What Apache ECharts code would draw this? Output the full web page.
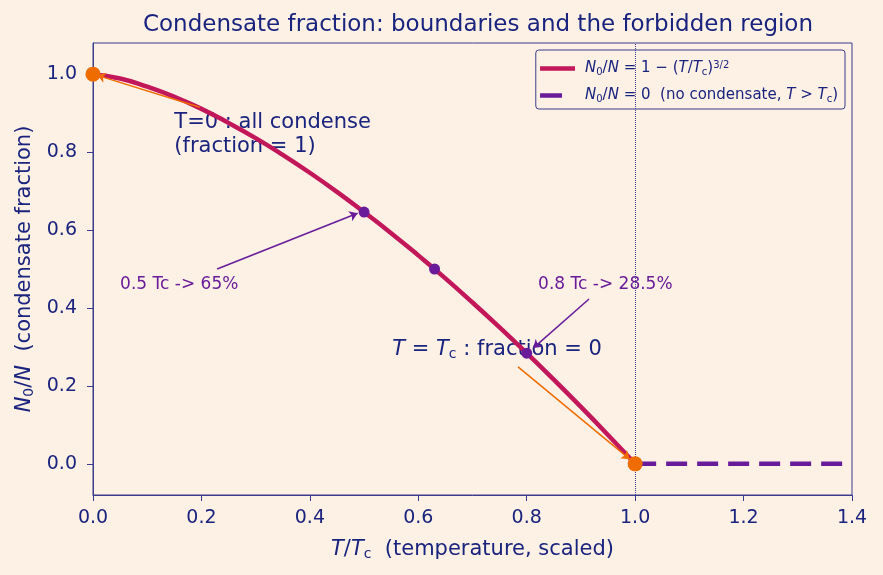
<!DOCTYPE html>
<html>
<head>
<meta charset="utf-8">
<script src="https://cdn.jsdelivr.net/npm/echarts@6/dist/echarts.min.js"></script>
<style>
  html, body { margin: 0; padding: 0; background: #fdf1e6; }
  #chart { width: 883px; height: 575px; }
</style>
</head>
<body>
<div id="chart"></div>
<script>
// T/Tc samples and condensate fraction
var tRatio = [0, 0.05, 0.1, 0.15, 0.2, 0.25, 0.3, 0.35, 0.4, 0.45, 0.5, 0.55, 0.6, 0.65, 0.7, 0.75, 0.8, 0.85, 0.9, 0.95, 1.0];
var fraction = [1.000, 0.989, 0.968, 0.942, 0.911, 0.875, 0.836, 0.793, 0.747, 0.698, 0.646, 0.592, 0.535, 0.476, 0.414, 0.350, 0.284, 0.216, 0.146, 0.074, 0.000];
// above Tc: no condensate
var aboveT = [1.0, 1.4];
var aboveF = [0, 0];
// highlighted points
var midPoints = [[0.5, 0.646], [0.63, 0.5], [0.8, 0.284]];
var endPoints = [[0, 1], [1, 0]];
var xTicks = [0, 0.2, 0.4, 0.6, 0.8, 1.0, 1.2, 1.4];
var yTicks = [0, 0.2, 0.4, 0.6, 0.8, 1.0];

// annotation texts [x, y, label]
var bigNotes = [[0.15, 0.845, 'T=0 : all condense\n(fraction = 1)'], [0.552, 0.293, '{i|T} = {i|T}{sub|c} : fraction = 0']];
var smallNotes = [[0.05, 0.46, '0.5 Tc -> 65%'], [0.821, 0.46, '0.8 Tc -> 28.5%']];
// arrows [from, to]
var orangeArrows = [[[0.197, 0.915], [0.008, 0.997]], [[0.784, 0.249], [0.99, 0.012]]];
var purpleArrows = [[[0.229, 0.5], [0.488, 0.643]], [[0.915, 0.423], [0.812, 0.297]]];

var navy = '#1a237e';
var frame = '#3b3d8c';
var crimson = '#c2185b';
var purple = '#6a1b9a';
var orange = '#ef6c00';
var font = 'DejaVu Sans';

function richSet(size, subSize, shift) {
  return {
    i: { fontStyle: 'italic', fontSize: size, fontFamily: font, color: navy },
    sub: { fontSize: subSize, padding: [shift, 0, 0, 0], fontFamily: font, color: navy },
    sup: { fontSize: subSize, padding: [0, 0, shift, 0], fontFamily: font, color: navy }
  };
}

function arrowData(list) {
  return list.map(function (a) {
    return [{ coord: a[0] }, { coord: a[1] }];
  });
}

var chart = echarts.init(document.getElementById('chart'));
chart.setOption({
  backgroundColor: '#fdf1e6',
  animation: false,
  title: {
    text: 'Condensate fraction: boundaries and the forbidden region',
    left: 473,
    top: 9,
    textAlign: 'center',
    textStyle: { color: navy, fontSize: 23, fontWeight: 'normal', fontFamily: font }
  },
  grid: {
    left: 93, right: 31, top: 43, bottom: 80,
    show: true, borderColor: frame, borderWidth: 1, backgroundColor: 'transparent'
  },
  legend: {
    orient: 'vertical',
    right: 38, top: 50,
    backgroundColor: '#fdf1e6',
    borderColor: frame, borderWidth: 1, borderRadius: 3,
    padding: [10, 7, 5, 2],
    itemWidth: 35, itemHeight: 14, itemGap: 11,
    itemStyle: { opacity: 0 },
    lineStyle: { width: 4.5 },
    data: [
      { name: 'curve' },
      { name: 'zero', lineStyle: { type: [22, 20], width: 4.5 } }
    ],
    formatter: function (name) {
      if (name === 'curve') return '{i|N}{sub|0}/{i|N} = 1 − ({i|T}/{i|T}{sub|c}){sup|3/2}';
      return '{i|N}{sub|0}/{i|N} = 0  (no condensate, {i|T} > {i|T}{sub|c})';
    },
    textStyle: { color: navy, fontSize: 15, fontFamily: font, padding: [0, 0, 0, 5], rich: richSet(15, 10, 7) }
  },
  xAxis: {
    type: 'value', min: 0, max: 1.4,
    name: '{i|T}/{i|T}{sub|c}  (temperature, scaled)',
    nameLocation: 'middle', nameGap: 43,
    nameTextStyle: { color: navy, fontSize: 21, fontFamily: font, rich: richSet(21, 14, 9) },
    axisLine: { onZero: false, lineStyle: { color: frame } },
    axisTick: { show: true, length: 6, lineStyle: { color: frame }, customValues: xTicks },
    axisLabel: { color: navy, fontSize: 19, fontFamily: font, margin: 14, customValues: xTicks,
      formatter: function (v) { return v.toFixed(1); } },
    splitLine: { show: false }
  },
  yAxis: {
    type: 'value', min: -0.08, max: 1.08,
    name: '{i|N}{sub|0}/{i|N}  (condensate fraction)',
    nameLocation: 'middle', nameGap: 57,
    nameTextStyle: { color: navy, fontSize: 21, fontFamily: font, rich: richSet(21, 14, 9) },
    axisLine: { show: true, onZero: false, lineStyle: { color: frame } },
    axisTick: { show: true, length: 6, lineStyle: { color: frame }, customValues: yTicks },
    axisLabel: { color: navy, fontSize: 19, fontFamily: font, margin: 16, customValues: yTicks,
      formatter: function (v) { return v.toFixed(1); } },
    splitLine: { show: false }
  },
  series: [
    {
      name: 'curve', type: 'line', smooth: true, symbol: 'none',
      data: tRatio.map(function (t, k) { return [t, fraction[k]]; }),
      lineStyle: { color: crimson, width: 4.5 },
      itemStyle: { color: crimson },
      z: 3,
      markLine: {
        silent: true, symbol: 'none', label: { show: false },
        lineStyle: { color: frame, type: 'dotted', width: 1 },
        data: [{ xAxis: 1 }]
      }
    },
    {
      name: 'zero', type: 'line', symbol: 'none',
      data: aboveT.map(function (t, k) { return [t, aboveF[k]]; }),
      lineStyle: { color: purple, width: 4.5, type: [21, 10], cap: 'butt' },
      itemStyle: { color: purple },
      z: 3
    },
    {
      name: 'mid', type: 'scatter', data: midPoints, symbolSize: 11,
      itemStyle: { color: purple, opacity: 1 }, z: 5
    },
    {
      name: 'ends', type: 'scatter', data: endPoints, symbolSize: 15,
      itemStyle: { color: orange, opacity: 1 }, z: 6
    },
    {
      name: 'orangeArrows', type: 'line', data: [],
      markLine: {
        silent: true, symbol: ['none', 'arrow'], symbolSize: 8,
        label: { show: false },
        lineStyle: { color: orange, type: 'solid', width: 1.5 },
        data: arrowData(orangeArrows)
      }, z: 4
    },
    {
      name: 'purpleArrows', type: 'line', data: [],
      markLine: {
        silent: true, symbol: ['none', 'arrow'], symbolSize: 8,
        label: { show: false },
        lineStyle: { color: purple, type: 'solid', width: 1.5 },
        data: arrowData(purpleArrows)
      }, z: 4
    },
    {
      name: 'bigNotes', type: 'scatter', symbolSize: 0, z: 2,
      itemStyle: { opacity: 1 },
      data: bigNotes.map(function (n) { return { value: [n[0], n[1]], label: { formatter: n[2] } }; }),
      label: {
        show: true, position: 'right', distance: 0, align: 'left', verticalAlign: 'middle',
        color: navy, fontSize: 21, fontFamily: font, lineHeight: 24,
        rich: richSet(21, 14, 9)
      }
    },
    {
      name: 'smallNotes', type: 'scatter', symbolSize: 0, z: 2,
      itemStyle: { opacity: 1 },
      data: smallNotes.map(function (n) { return { value: [n[0], n[1]], label: { formatter: n[2] } }; }),
      label: {
        show: true, position: 'right', distance: 0, align: 'left', verticalAlign: 'middle',
        color: purple, fontSize: 17, fontFamily: font
      }
    }
  ]
});
</script>
</body>
</html>
